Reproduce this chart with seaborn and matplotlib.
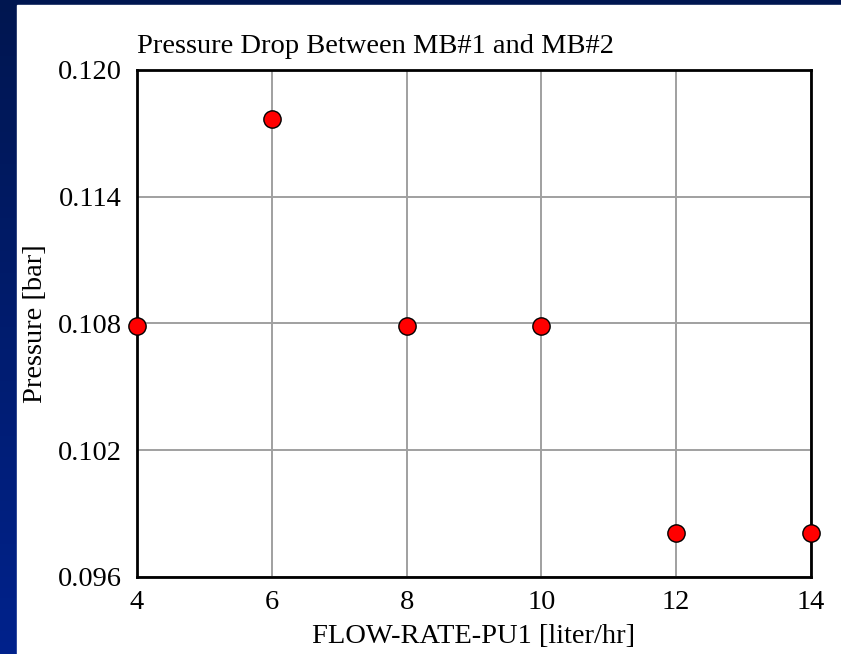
import numpy as np
import pandas as pd
import matplotlib
matplotlib.use("Agg")
import matplotlib.pyplot as plt
from matplotlib.colors import LinearSegmentedColormap
import seaborn as sns

flow_rate = [4, 6, 8, 10, 12, 14]
pressure = [0.1079, 0.1177, 0.1079, 0.1079, 0.0981, 0.0981]
x_ticks = [4, 6, 8, 10, 12, 14]
y_ticks = [0.096, 0.102, 0.108, 0.114, 0.120]
y_tick_labels = ["0.096", "0.102", "0.108", "0.114", "0.120"]

df = pd.DataFrame({"flow": flow_rate, "pressure": pressure})

sns.set_theme(style="white")
plt.rcParams["font.family"] = ["Liberation Serif", "DejaVu Serif"]

W, H = 841, 654
fig = plt.figure(figsize=(W / 100, H / 100), dpi=100)
fig.patch.set_facecolor("white")

# background gradient frame
bg = fig.add_axes([0, 0, 1, 1], zorder=-10)
grad = np.linspace(0, 1, 256).reshape(-1, 1)
cmap = LinearSegmentedColormap.from_list("bg", ["#001650", "#00228c"])
bg.imshow(grad, aspect="auto", cmap=cmap, extent=[0, 1, 0, 1], origin="upper")
bg.add_patch(plt.Rectangle((17 / W, 0), 1, 1 - 5 / H, color="white", zorder=2))
bg.set_xlim(0, 1)
bg.set_ylim(0, 1)
bg.axis("off")

ax = fig.add_axes([137 / W, 1 - 577 / H, (811 - 137) / W, (577 - 70) / H])
ax.set_facecolor("white")
sns.scatterplot(data=df, x="flow", y="pressure", ax=ax, color="#ff0000",
                edgecolor="black", linewidth=1.0, s=155, zorder=5, clip_on=False)

ax.set_xlim(4, 14)
ax.set_ylim(0.096, 0.120)
ax.set_xticks(x_ticks)
ax.set_xticklabels([str(v) for v in x_ticks])
ax.set_yticks(y_ticks)
ax.set_yticklabels(y_tick_labels)
ax.grid(True, color="#a0a0a0", linewidth=1.4)
ax.set_axisbelow(True)
for sp in ax.spines.values():
    sp.set_color("black")
    sp.set_linewidth(2)
ax.tick_params(axis="both", length=0, labelsize=20.5, colors="black")
ax.tick_params(axis="y", pad=11)
ax.tick_params(axis="x", pad=9.5)

ax.set_xlabel("FLOW-RATE-PU1 [liter/hr]", fontsize=20.5, color="black", labelpad=6)
ax.set_ylabel("Pressure [bar]", fontsize=20.5, color="black", labelpad=7)
ax.set_title("Pressure Drop Between MB#1 and MB#2", loc="left", fontsize=20.5,
             color="black", pad=12)

fig.savefig("out.png", dpi=100)
